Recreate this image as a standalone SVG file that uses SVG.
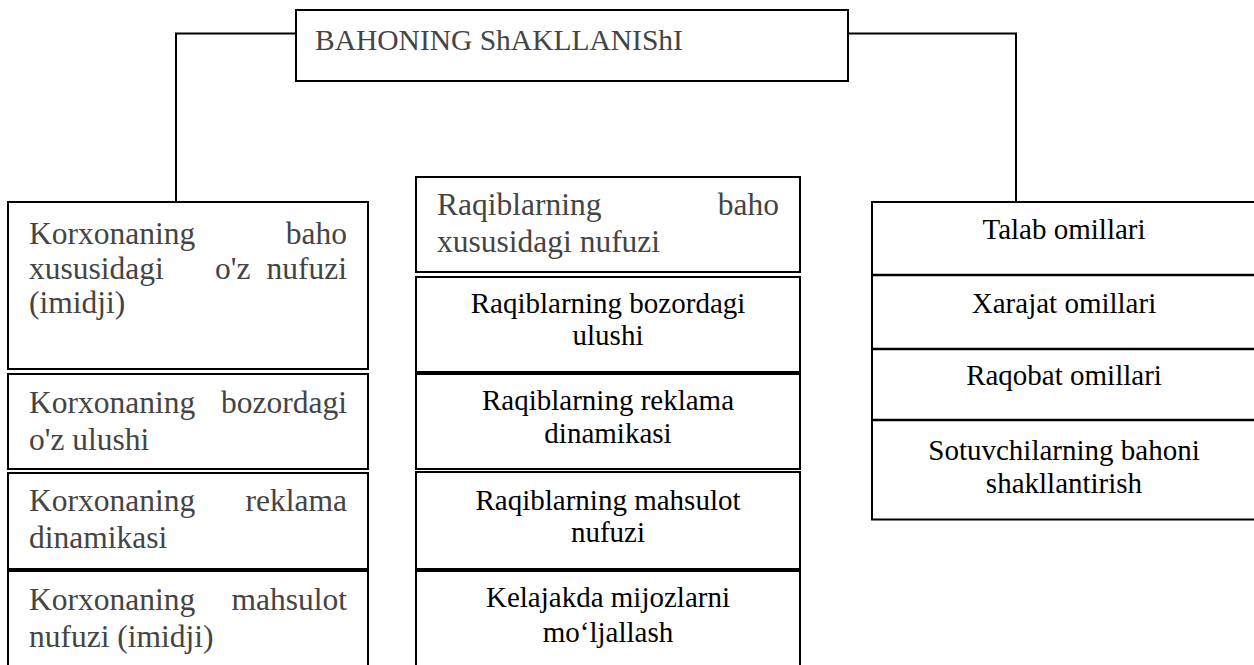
<svg xmlns="http://www.w3.org/2000/svg" width="1254" height="665" viewBox="0 0 1254 665">
<style>
.box{fill:#fff;stroke:#000;stroke-width:2}
.div{stroke:#000;stroke-width:2.5}
.conn{fill:none;stroke:#000;stroke-width:2}
.g{font-family:'Liberation Serif','Tinos','Times New Roman','DejaVu Serif',serif;font-size:31.5px;fill:#444}
.b{font-family:'Liberation Serif','Tinos','Times New Roman','DejaVu Serif',serif;font-size:29px;fill:#000;text-anchor:middle}
.t{font-family:'Liberation Serif','Tinos','Times New Roman','DejaVu Serif',serif;font-size:29.5px;fill:#444}
.e{text-anchor:end}
</style>
<rect width="1254" height="665" fill="#fff"/>
<g id="connectors">
<path class="conn" d="M296,33.5 H176 V202"/>
<path class="conn" d="M848,33.5 H1016 V202"/>
</g>
<g id="title">
<rect class="box" x="296" y="10" width="552" height="71"/>
<text class="t" x="315" y="50">BAHONING ShAKLLANIShI</text>
</g>
<g id="left-1">
<rect class="box" x="8" y="202" width="360" height="167"/>
<text class="g" x="29" y="244">Korxonaning</text><text class="g e" x="347" y="244">baho</text>
<text class="g" x="29" y="279">xususidagi</text><text class="g" x="215" y="279">o'z</text><text class="g e" x="347" y="279">nufuzi</text>
<text class="g" x="29" y="313">(imidji)</text>
</g>
<g id="left-2">
<rect class="box" x="8" y="374" width="360" height="95"/>
<text class="g" x="29" y="413">Korxonaning</text><text class="g e" x="347" y="413">bozordagi</text>
<text class="g" x="29" y="450">o'z ulushi</text>
</g>
<g id="left-3">
<rect class="box" x="8" y="473" width="360" height="96"/>
<text class="g" x="29" y="511">Korxonaning</text><text class="g e" x="347" y="511">reklama</text>
<text class="g" x="29" y="548">dinamikasi</text>
</g>
<g id="left-4">
<rect class="box" x="8" y="571" width="360" height="110"/>
<text class="g" x="29" y="610">Korxonaning</text><text class="g e" x="347" y="610">mahsulot</text>
<text class="g" x="29" y="647">nufuzi (imidji)</text>
</g>
<g id="mid-1">
<rect class="box" x="416" y="177" width="384" height="95"/>
<text class="g" x="437" y="215">Raqiblarning</text><text class="g e" x="779" y="215">baho</text>
<text class="g" x="437" y="252">xususidagi nufuzi</text>
</g>
<g id="mid-2">
<rect class="box" x="416" y="277" width="384" height="95"/>
<text class="b" x="608" y="313">Raqiblarning bozordagi</text>
<text class="b" x="608" y="345">ulushi</text>
</g>
<g id="mid-3">
<rect class="box" x="416" y="374" width="384" height="95"/>
<text class="b" x="608" y="410">Raqiblarning reklama</text>
<text class="b" x="608" y="443">dinamikasi</text>
</g>
<g id="mid-4">
<rect class="box" x="416" y="472" width="384" height="97"/>
<text class="b" x="608" y="510">Raqiblarning mahsulot</text>
<text class="b" x="608" y="542">nufuzi</text>
</g>
<g id="mid-5">
<rect class="box" x="416" y="571" width="384" height="110"/>
<text class="b" x="608" y="607">Kelajakda mijozlarni</text>
<text class="b" x="608" y="642">mo‘ljallash</text>
</g>
<g id="right">
<rect class="box" x="872" y="202" width="384" height="317.5"/>
<line class="div" x1="872" y1="275" x2="1256" y2="275"/>
<line class="div" x1="872" y1="349" x2="1256" y2="349"/>
<line class="div" x1="872" y1="420" x2="1256" y2="420"/>
<text class="b" x="1064" y="239">Talab omillari</text>
<text class="b" x="1064" y="313">Xarajat omillari</text>
<text class="b" x="1064" y="385">Raqobat omillari</text>
<text class="b" x="1064" y="460">Sotuvchilarning bahoni</text>
<text class="b" x="1064" y="493">shakllantirish</text>
</g>
</svg>
